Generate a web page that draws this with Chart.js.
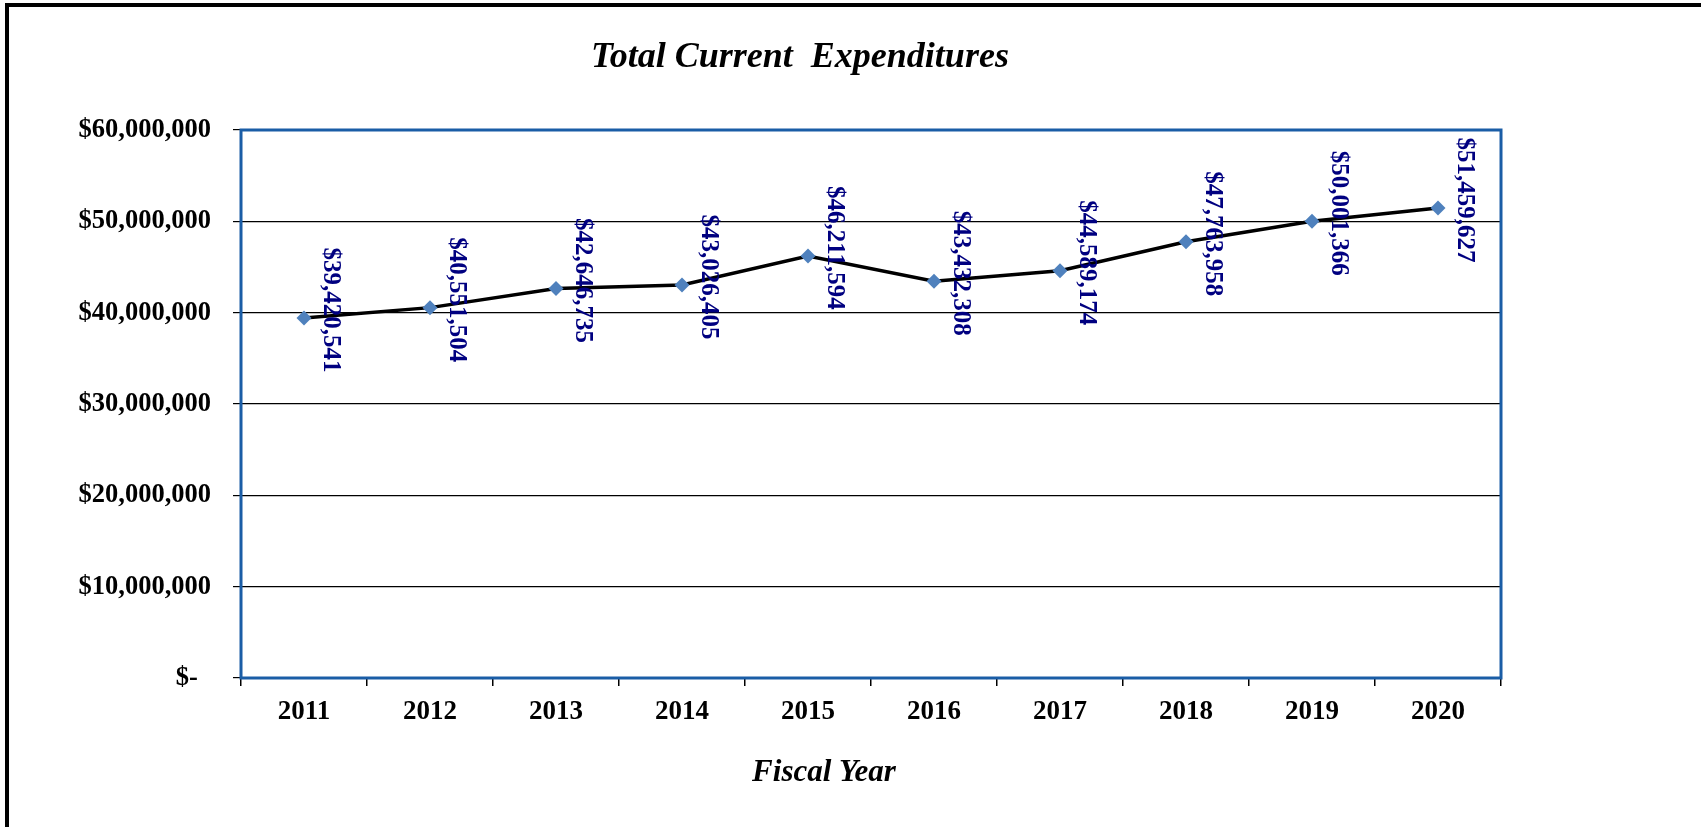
<!DOCTYPE html>
<html>
<head>
<meta charset="utf-8">
<title>Total Current Expenditures</title>
<script src="https://cdn.jsdelivr.net/npm/chart.js@4/dist/chart.umd.min.js"></script>
<style>
  body { margin: 0; background: #fff; }
  #chart { display: block; }
</style>
</head>
<body>
<canvas id="chart" width="1701" height="827"></canvas>
<script>
// Fiscal years and total current expenditures
const years = ['2011', '2012', '2013', '2014', '2015', '2016', '2017', '2018', '2019', '2020'];
const expenditures = [39420541, 40551504, 42646735, 43026405, 46211594, 43432308, 44589174, 47763958, 50001366, 51459627];
const yTicks = [0, 10000000, 20000000, 30000000, 40000000, 50000000, 60000000];

const chartTitle = 'Total Current  Expenditures';
const xTitle = 'Fiscal Year';
const serif = '"Liberation Serif", "Times New Roman", serif';

function money(v) {
  if (v === 0) return '$-  ';
  return '$' + v.toLocaleString('en-US');
}

// frame, title, plot border and rotated value labels
const decorations = {
  id: 'decorations',
  beforeDraw(chart) {
    const ctx = chart.ctx;
    ctx.save();
    ctx.fillStyle = '#fff';
    ctx.fillRect(0, 0, chart.width, chart.height);
    ctx.fillStyle = '#000';
    ctx.fillRect(5, 3, 4, chart.height - 3);
    ctx.fillRect(5, 3, chart.width - 5, 4);
    ctx.restore();
  },
  beforeDatasetsDraw(chart) {
    const ctx = chart.ctx;
    const a = chart.chartArea;
    ctx.save();
    ctx.strokeStyle = '#1A5DA6';
    ctx.lineWidth = 3;
    ctx.strokeRect(a.left, a.top, a.right - a.left, a.bottom - a.top);
    ctx.restore();
  },
  afterDatasetsDraw(chart) {
    const ctx = chart.ctx;
    const meta = chart.getDatasetMeta(0);
    ctx.save();
    ctx.fillStyle = '#000080';
    ctx.font = 'bold 25px ' + serif;
    ctx.textAlign = 'center';
    ctx.textBaseline = 'middle';
    meta.data.forEach((pt, i) => {
      ctx.save();
      ctx.translate(pt.x + 26, pt.y - 8);
      ctx.rotate(Math.PI / 2);
      ctx.fillText(money(expenditures[i]), 0, 0);
      ctx.restore();
    });
    ctx.fillStyle = '#000';
    ctx.font = 'italic bold 36px ' + serif;
    ctx.fillText(chartTitle, 800, 58);
    ctx.font = 'italic bold 31px ' + serif;
    ctx.fillText(xTitle, 824, 773);
    ctx.restore();
  }
};

const ctx = document.getElementById('chart').getContext('2d');
new Chart(ctx, {
  type: 'line',
  data: {
    labels: years,
    datasets: [{
      label: 'Total Current Expenditures',
      data: expenditures,
      borderColor: '#000',
      borderWidth: 3.5,
      tension: 0,
      fill: false,
      pointStyle: 'rectRot',
      pointRadius: 7.5,
      pointBackgroundColor: '#4F81BD',
      pointBorderColor: '#4F81BD',
      pointBorderWidth: 0
    }]
  },
  options: {
    responsive: false,
    animation: false,
    layout: { padding: { top: 130, right: 200, left: 0, bottom: 0 } },
    plugins: {
      legend: { display: false },
      tooltip: { enabled: false },
      title: { display: false }
    },
    scales: {
      x: {
        offset: true,
        grid: {
          offset: true,
          drawOnChartArea: false,
          drawTicks: true,
          tickLength: 8,
          color: '#000',
          lineWidth: 1.5
        },
        border: { display: false },
        ticks: {
          color: '#000',
          padding: 10,
          font: { family: serif, size: 27, weight: 'bold' }
        },
        afterFit(scale) { scale.height = 149; }
      },
      y: {
        min: 0,
        max: 60000000,
        afterBuildTicks(scale) { scale.ticks = yTicks.map(v => ({ value: v })); },
        grid: {
          color: '#000',
          lineWidth: 1.2,
          drawTicks: true,
          tickLength: 8
        },
        border: { display: false },
        ticks: {
          color: '#000',
          padding: 22,
          font: { family: serif, size: 26.5, weight: 'bold' },
          callback: v => money(v)
        },
        afterFit(scale) { scale.width = 241; }
      }
    }
  },
  plugins: [decorations]
});
</script>
</body>
</html>
